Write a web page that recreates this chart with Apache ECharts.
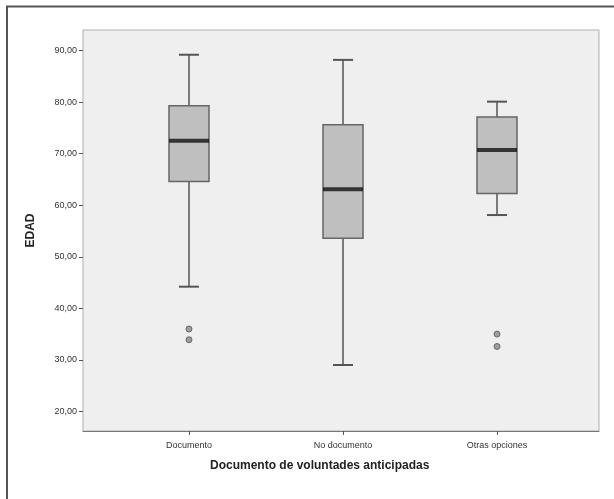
<!DOCTYPE html>
<html>
<head>
<meta charset="utf-8">
<script src="https://cdn.jsdelivr.net/npm/echarts@6/dist/echarts.min.js"></script>
<style>
html,body{margin:0;padding:0;background:#fff;}
#c{width:614px;height:499px;}
</style>
</head>
<body>
<div id="c"></div>
<script>
const categories = ['Documento', 'No documento', 'Otras opciones'];
// [min, Q1, median, Q3, max]
const boxData = [
  [44.2, 64.6, 72.5, 79.3, 89.2],
  [29.0, 53.6, 63.1, 75.6, 88.2],
  [58.1, 62.3, 70.7, 77.1, 80.1]
];
const outliers = [
  [0, 33.9], [0, 36.0],
  [2, 32.6], [2, 35.0]
];
const yTicks = [20, 30, 40, 50, 60, 70, 80, 90];
const yTitle = 'EDAD';
const xTitle = 'Documento de voluntades anticipadas';

const chart = echarts.init(document.getElementById('c'), null, {renderer: 'canvas'});
const FONT = 'Liberation Sans';
const medians = boxData.map((d, i) => [i, d[2]]);

const option = {
  backgroundColor: '#ffffff',
  animation: false,
  graphic: [
    {type: 'polyline', shape: {points: [[7, 499], [7, 6.5], [614, 6.5]]},
     style: {stroke: '#555', lineWidth: 2, fill: null}, silent: true},
    {type: 'text', left: 340 - 130, top: 460,
     style: {text: xTitle, font: 'bold 12px ' + FONT, fill: '#222'}}
  ],
  grid: [
    {left: 83, right: 15, top: 30, bottom: 68, show: true,
     backgroundColor: '#efefef', borderColor: '#b0b0b0', borderWidth: 1},
    {left: 112, right: 40, top: 30, bottom: 68}
  ],
  xAxis: [
    {gridIndex: 0, type: 'value', min: 0, max: 1, show: true,
     axisLine: {show: true, onZero: false, lineStyle: {color: '#777', width: 1}},
     axisTick: {show: false}, axisLabel: {show: false}, splitLine: {show: false}},
    {gridIndex: 1, type: 'category', data: categories, boundaryGap: true,
     axisLine: {show: false},
     axisTick: {show: true, alignWithLabel: true, length: 4, lineStyle: {color: '#555'}},
     axisLabel: {fontFamily: FONT, fontSize: 9, color: '#333', margin: 10},
     splitLine: {show: false}}
  ],
  yAxis: [
    {gridIndex: 0, type: 'value', min: 16.2, max: 94.0,
     name: yTitle, nameLocation: 'middle', nameGap: 46, nameRotate: 90,
     nameTextStyle: {fontFamily: FONT, fontSize: 12, fontWeight: 'bold', color: '#222'},
     axisLine: {show: false},
     axisTick: {show: true, length: 4, customValues: yTicks, lineStyle: {color: '#555'}},
     axisLabel: {fontFamily: FONT, fontSize: 9, color: '#333', margin: 6,
       customValues: yTicks,
       formatter: v => v.toFixed(2).replace('.', ',')},
     splitLine: {show: false}},
    {gridIndex: 1, type: 'value', min: 16.2, max: 94.0, show: false}
  ],
  series: [
    {
      type: 'custom', xAxisIndex: 1, yAxisIndex: 1,
      data: boxData.map((d, i) => [i].concat(d)),
      renderItem: function (params, api) {
        const x = api.value(0);
        const pMin = api.coord([x, api.value(1)]);
        const pQ1 = api.coord([x, api.value(2)]);
        const pQ3 = api.coord([x, api.value(4)]);
        const pMax = api.coord([x, api.value(5)]);
        const cx = pMin[0];
        const bw = 40, cw = 20;
        const lineStyle = {stroke: '#555', lineWidth: 1.5};
        return {
          type: 'group',
          children: [
            {type: 'line', shape: {x1: cx, y1: pMax[1], x2: cx, y2: pQ3[1]}, style: lineStyle},
            {type: 'line', shape: {x1: cx, y1: pQ1[1], x2: cx, y2: pMin[1]}, style: lineStyle},
            {type: 'line', shape: {x1: cx - cw / 2, y1: pMax[1], x2: cx + cw / 2, y2: pMax[1]}, style: {stroke: '#555', lineWidth: 2}},
            {type: 'line', shape: {x1: cx - cw / 2, y1: pMin[1], x2: cx + cw / 2, y2: pMin[1]}, style: {stroke: '#555', lineWidth: 2}},
            {type: 'rect', shape: {x: cx - bw / 2, y: pQ3[1], width: bw, height: pQ1[1] - pQ3[1]},
             style: {fill: '#bfbfbf', stroke: '#666', lineWidth: 1.5}}
          ]
        };
      }
    },
    {
      type: 'scatter', xAxisIndex: 1, yAxisIndex: 1,
      data: medians, symbol: 'rect', symbolSize: [40, 4],
      itemStyle: {color: '#111'}, z: 5
    },
    {
      type: 'scatter', xAxisIndex: 1, yAxisIndex: 1,
      data: outliers, symbol: 'circle', symbolSize: 6,
      itemStyle: {color: '#8a8a8a', borderColor: '#555', borderWidth: 1}, z: 5
    }
  ]
};
chart.setOption(option);
</script>
</body>
</html>
